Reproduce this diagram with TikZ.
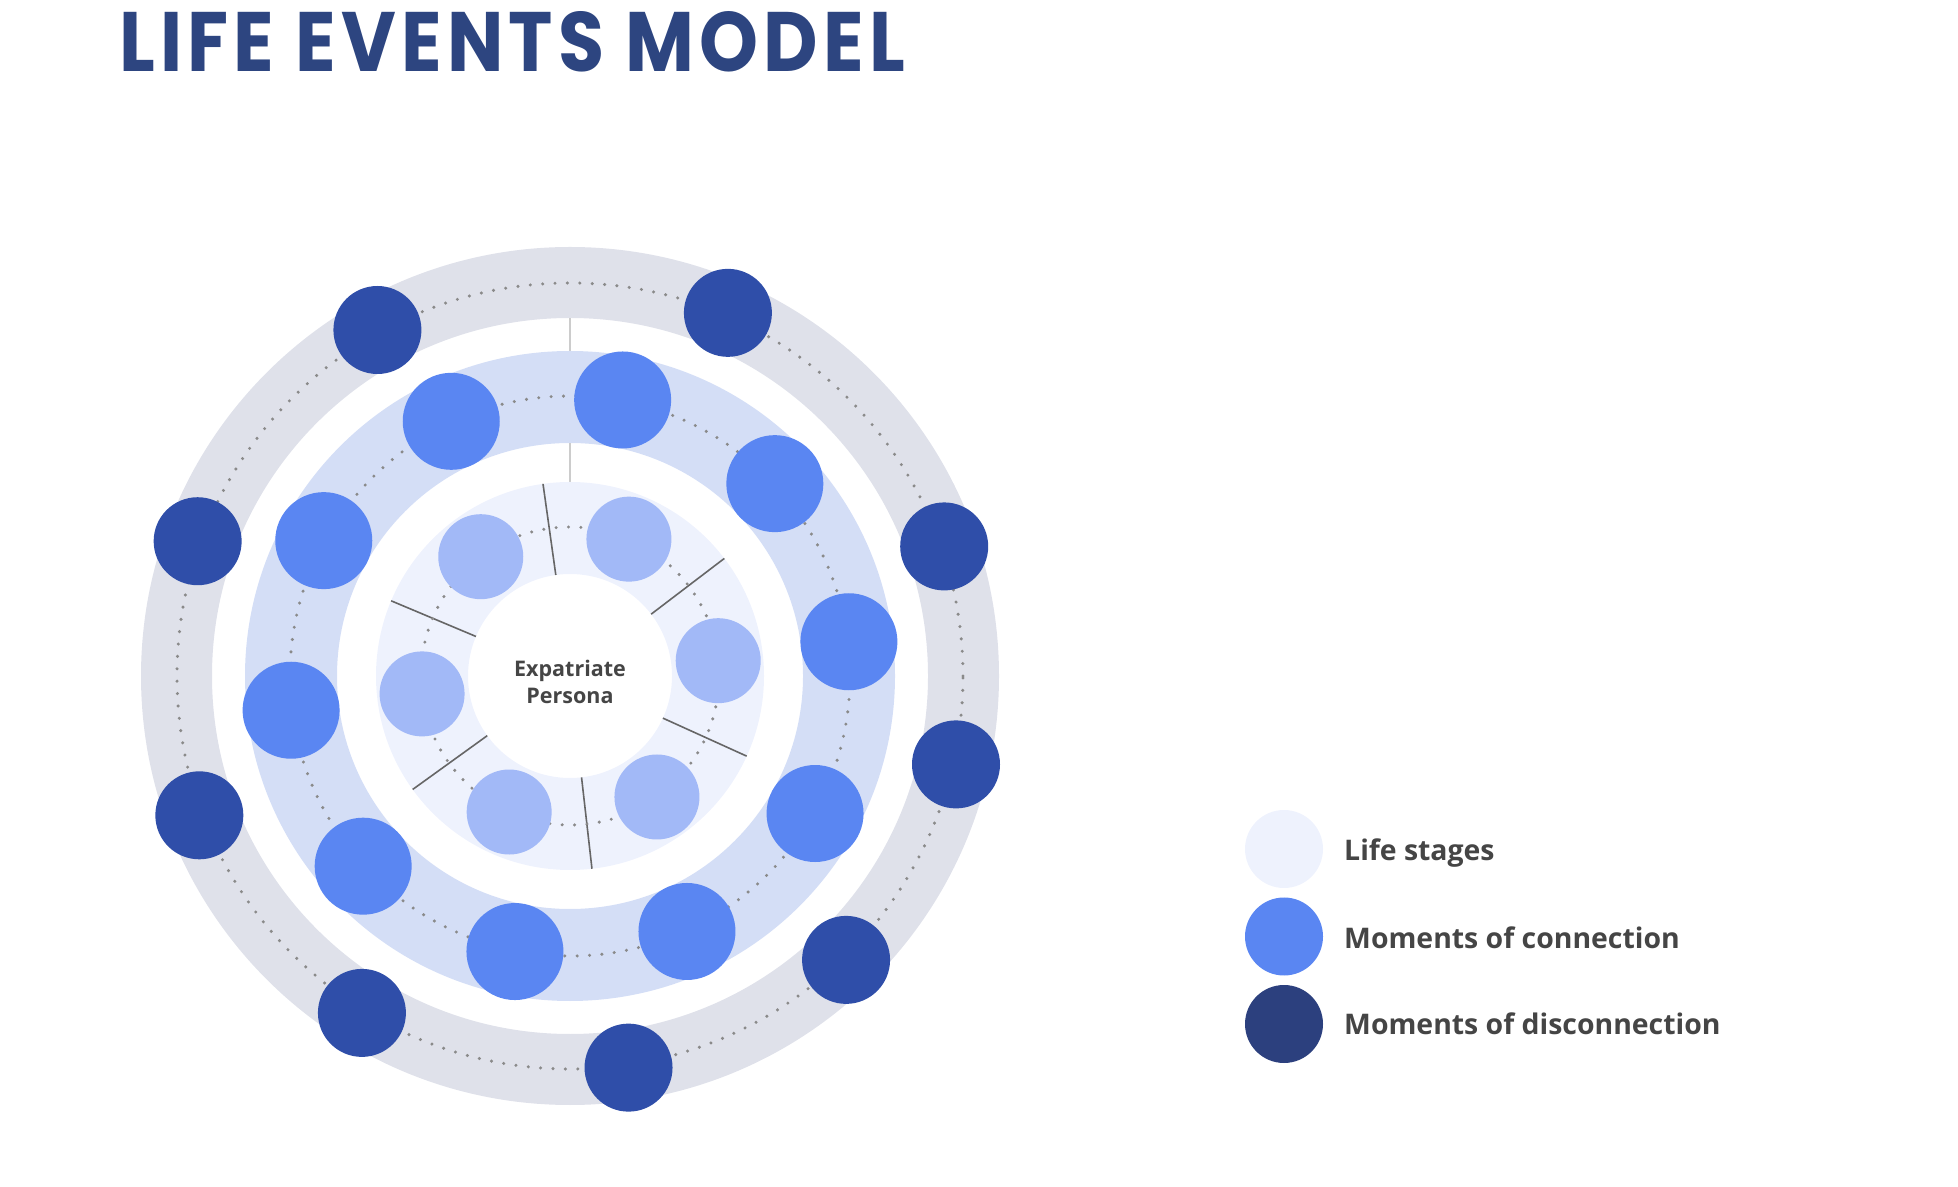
\documentclass[tikz,border=0pt]{standalone}
\usepackage{fontspec}
\setmainfont{Open Sans}
\newfontfamily\titlefont[LetterSpace=7]{Poppins}
\usepackage{graphicx}
\definecolor{ringgray}{HTML}{DFE1EA}
\definecolor{ringblue}{HTML}{D4DEF6}
\definecolor{ringpale}{HTML}{EEF2FD}
\definecolor{darkdot}{HTML}{2F4EA9}
\definecolor{conndot}{HTML}{5A86F2}
\definecolor{innerdot}{HTML}{A2B9F7}
\definecolor{legdark}{HTML}{2C407E}
\definecolor{titleblue}{HTML}{2D4580}
\definecolor{txtgray}{HTML}{454545}
\definecolor{dotgray}{HTML}{8A8A8A}
\tikzset{
  darkc/.style={circle, fill=darkdot, minimum size=88pt, inner sep=0pt, draw=none},
  connc/.style={circle, fill=conndot, minimum size=97pt, inner sep=0pt, draw=none},
  innc/.style={circle, fill=innerdot, minimum size=85pt, inner sep=0pt, draw=none},
  legc/.style={circle, minimum size=78pt, inner sep=0pt, draw=none},
  legtext/.style={anchor=west, inner sep=0pt, text=txtgray, font=\bfseries\fontsize{28.4}{34}\selectfont},
  orbitdots/.style={draw=dotgray, line width=3.4pt, line cap=round, dash pattern=on 0pt off 12.4pt},
  sepline/.style={draw=black!60, line width=1.6pt},
  guideline/.style={draw=black!20, line width=1.3pt}
}
\begin{document}
\begin{tikzpicture}[x=1pt,y=1pt]
\useasboundingbox (0,0) rectangle (1958,1186);
\coordinate (C) at (570,510);
% title
\node[anchor=base west, inner sep=0pt, text=titleblue] (title) at (119,1114)
  {\resizebox{786pt}{60pt}{\titlefont\bfseries LIFE EVENTS MODEL}};
% guide line at top (beneath rings)
\coordinate (g1) at ([shift={(90:194)}]C);
\coordinate (g2) at ([shift={(90:358)}]C);
\draw[guideline] (g1) -- (g2);
% rings
\fill[ringgray, even odd rule] (C) circle[radius=429] (C) circle[radius=358];
\fill[ringblue, even odd rule] (C) circle[radius=325] (C) circle[radius=233];
\fill[ringpale, even odd rule] (C) circle[radius=194] (C) circle[radius=102];
% separators in inner ring
\foreach \a [count=\i] in {98,37.3,-24.4,-83.5,215.8,157.2}{
  \coordinate (s\i a) at ([shift={(\a:102)}]C);
  \coordinate (s\i b) at ([shift={(\a:194)}]C);
  \draw[sepline] (s\i a) -- (s\i b);
}
% dotted orbits
\draw[orbitdots] (C) circle[radius=393];
\draw[orbitdots] (C) circle[radius=280];
\draw[orbitdots] (C) circle[radius=149];
% outer: moments of disconnection
\foreach \a [count=\i] in {119.1,66.5,160.1,19.1,-12.9,200.6,-45.8,238.3,-81.5}{
  \node[darkc] (d\i) at ([shift={(\a:396)}]C) {};
}
% middle: moments of connection
\foreach \a [count=\i] in {115,79.2,43.2,151.2,7,187,-29.3,222.6,-65.4,258.7}{
  \node[connc] (m\i) at ([shift={(\a:281)}]C) {};
}
% inner: life stages
\foreach \a [count=\i] in {126.8,66.7,5.9,186.9,-54.3,245.9}{
  \node[innc] (l\i) at ([shift={(\a:149)}]C) {};
}
% center label
\node[align=center, text=txtgray, font=\bfseries\fontsize{21.5}{26.5}\selectfont] (center) at (570,504) {Expatriate\\Persona};
% legend
\node[legc, fill=ringpale] (k1) at (1284,337) {};
\node[legc, fill=conndot] (k2) at (1284,249.5) {};
\node[legc, fill=legdark] (k3) at (1284,162) {};
\node[legtext] (t1) at (1344,333) {Life stages};
\node[legtext] (t2) at (1344,248.5) {Moments of connection};
\node[legtext] (t3) at (1344,162) {Moments of disconnection};
\end{tikzpicture}
\end{document}
